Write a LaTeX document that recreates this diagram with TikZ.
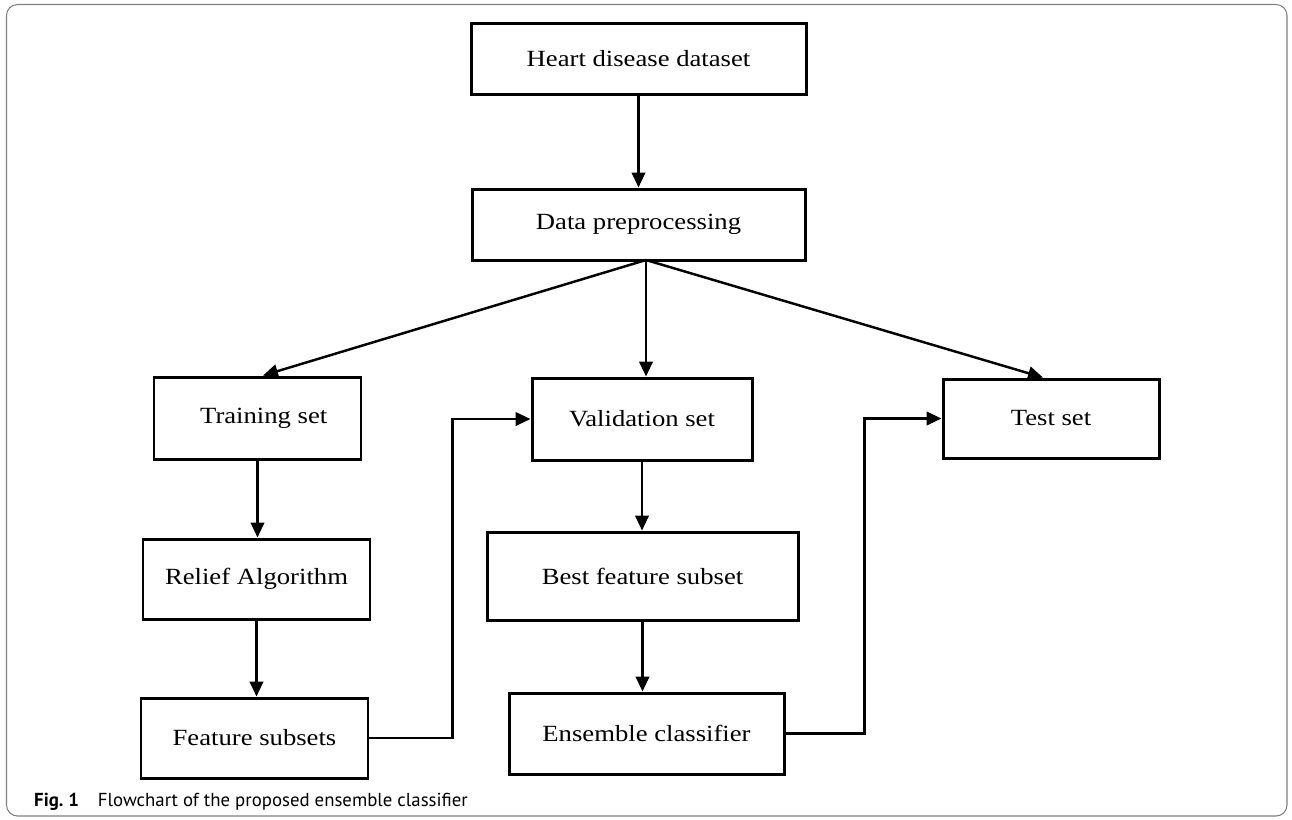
\documentclass[tikz,border=0pt]{standalone}
\usepackage{fontspec}
\setmainfont{Liberation Serif}
\newfontfamily\boxfont{Liberation Serif}[FakeStretch=1.15]
\newfontfamily\capfont{PT Sans}
\usetikzlibrary{arrows.meta}

\begin{document}
\begin{tikzpicture}[
        >={Triangle[length=0.3cm, width=0.27cm]}, line width=1.4pt,
        box/.style={draw, line width=1.7pt, inner sep=0pt,
                    font=\boxfont\fontsize{13.2}{15}\selectfont},
    ]
    \useasboundingbox (0cm, 0cm) rectangle (25.84cm, -16.38cm);
    \draw[line width=0.6pt, gray, rounded corners=0.22cm]
         (0.13cm, -0.09cm) rectangle (25.74cm, -16.32cm);

    % top row
    \node[box, minimum width=6.7cm, minimum height=1.42cm] (heart) at (12.77cm, -1.17cm) {Heart disease dataset};
    \node[box, minimum width=6.66cm, minimum height=1.42cm] (prep) at (12.77cm, -4.49cm) {Data preprocessing};
    \coordinate (split) at (12.92cm, -5.2cm);

    % second row
    \node[box, minimum width=4.14cm, minimum height=1.64cm] (train) at (5.15cm, -8.36cm) {\hspace{0.25cm}Training set};
    \node[box, minimum width=4.4cm, minimum height=1.64cm] (valid) at (12.84cm, -8.38cm) {Validation set};
    \node[box, minimum width=4.32cm, minimum height=1.58cm] (test) at (21.02cm, -8.37cm) {Test set};

    % lower rows
    \node[box, minimum width=4.54cm, minimum height=1.6cm] (relief) at (5.13cm, -11.58cm) {Relief Algorithm};
    \node[box, minimum width=6.22cm, minimum height=1.76cm] (best) at (12.85cm, -11.52cm) {Best feature subset};
    \node[box, minimum width=4.54cm, minimum height=1.6cm] (subsets) at (5.09cm, -14.76cm) {Feature subsets};
    \node[box, minimum width=5.5cm, minimum height=1.62cm] (ensemble) at (12.93cm, -14.67cm) {Ensemble classifier};

    \draw[->] (heart.south) -- (prep.north);
    \draw[->] (split) -- ([xshift=0.11cm]train.north);
    \draw[->] (split) -- (split |- valid.north);
    \draw[->] (split) -- ([xshift=-0.16cm]test.north);

    \draw[->] (train.south) -- (train.south |- relief.north);
    \draw[->] (relief.south) -- (relief.south |- subsets.north);
    \draw[->] (valid.south) -- (valid.south |- best.north);
    \draw[->] (best.south) -- (best.south |- ensemble.north);

    \draw[->] (subsets.east) -- ++(1.66cm, 0cm) |- (valid.west);
    \draw[->] (ensemble.east) -- ++(1.58cm, 0cm) |- (test.west);

    \node[anchor=base west, inner sep=0pt, font=\capfont\fontsize{10.7}{12}\selectfont] (caption)
         at (0.66cm, -16.12cm) {\textbf{Fig.~1}\hspace{0.38cm}Flowchart of the proposed ensemble classifier};
\end{tikzpicture}
\end{document}
